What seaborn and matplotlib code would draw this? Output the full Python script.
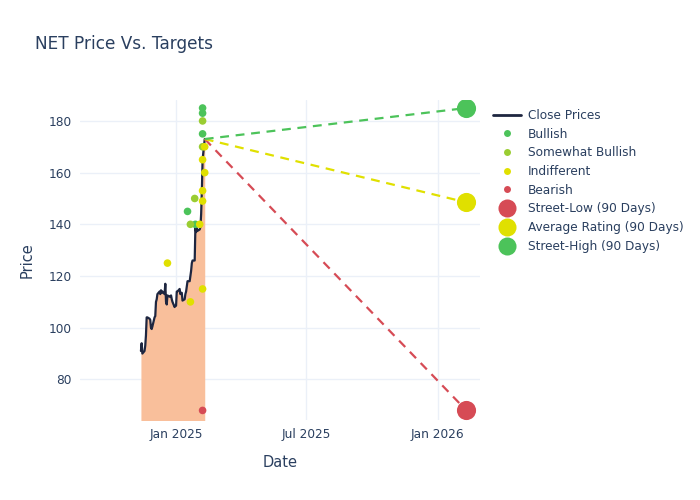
import pandas as pd
import numpy as np
import matplotlib
matplotlib.use('Agg')
import matplotlib.pyplot as plt
import matplotlib.dates as mdates
from matplotlib.lines import Line2D
import seaborn as sns

sns.set_style('white')
plt.rcParams['font.family'] = ['DejaVu Sans']

# close prices, business days 2024-11-13 .. 2025-02-10
close_dates = pd.bdate_range('2024-11-13', '2025-02-10')
close_prices = [91, 94, 90, 91, 93, 97, 104, 104, 103.5, 103, 100, 99.5, 100.5,
                104, 104.5, 110, 111, 113, 114, 113, 114.5, 113.5, 114, 113, 117,
                110, 109, 112.5, 112, 112, 112.5, 111, 110, 108, 108.5,
                108.5, 114, 114, 115, 113, 113.5, 113.5, 110.5, 111, 113, 114, 116,
                118, 118, 120, 122, 125, 126, 126, 139, 137, 138.5, 137.5,
                138, 139, 144, 153, 165, 173]

rating_dates = ['2025-02-07', '2025-02-07', '2025-02-07', '2025-01-17', '2025-01-28',
                '2025-02-07', '2025-02-07', '2025-01-27', '2025-01-21',
                '2024-12-20', '2025-01-21', '2025-02-03', '2025-02-10', '2025-02-07',
                '2025-02-10', '2025-02-07', '2025-02-07', '2025-02-07',
                '2025-02-07']
rating_prices = [185, 183, 175, 145, 140,
                 180, 170, 150, 140,
                 125, 110, 140, 170, 165, 160, 153, 149, 115,
                 68]
rating_labels = ['Bullish'] * 5 + ['Somewhat Bullish'] * 4 + ['Indifferent'] * 9 + ['Bearish']

target_date = '2026-02-10'
target_names = ['Street-Low (90 Days)', 'Average Rating (90 Days)', 'Street-High (90 Days)']
target_values = [68, 148.5, 185]

colors = {'Bullish': '#4cc35a', 'Somewhat Bullish': '#9acd32',
          'Indifferent': '#e0e000', 'Bearish': '#d64b55'}
target_colors = ['#d64b55', '#e0e000', '#4cc35a']
text_col = '#2a3f5f'
grid_col = '#ebf0f8'

close_df = pd.DataFrame({'Date': close_dates, 'Price': close_prices})
rating_df = pd.DataFrame({'Date': pd.to_datetime(rating_dates), 'Price': rating_prices,
                          'Rating': rating_labels})

fig = plt.figure(figsize=(7, 5), dpi=100)
ax = fig.add_axes([80 / 700, 80 / 500, 400 / 700, 320 / 500])

ax.fill_between(close_df['Date'], close_df['Price'], 0, color='#f9bf9b', lw=0, zorder=1)
sns.lineplot(data=close_df, x='Date', y='Price', color='#1e2640', lw=1.6, ax=ax, zorder=3)
sns.scatterplot(data=rating_df, x='Date', y='Price', hue='Rating', palette=colors,
                s=30, linewidth=0, legend=False, ax=ax, zorder=4)

last_date = close_df['Date'].iloc[-1]
last_price = close_df['Price'].iloc[-1]
tdate = pd.Timestamp(target_date)
for val, c in zip(target_values, target_colors):
    ax.plot([last_date, tdate], [last_price, val], ls=(0, (4, 3)), lw=1.6, color=c, zorder=5)
    ax.scatter([tdate], [val], s=190, color=c, linewidth=0, zorder=6)

ax.set_xlim(pd.Timestamp('2024-08-20'), pd.Timestamp('2026-03-01'))
ax.set_ylim(64.3, 188.1)
ax.set_yticks([80, 100, 120, 140, 160, 180])
ax.set_xticks(pd.to_datetime(['2025-01-01', '2025-07-01', '2026-01-01']))
ax.xaxis.set_major_formatter(mdates.DateFormatter('%b %Y'))
ax.grid(True, color=grid_col, lw=1)
ax.set_axisbelow(True)
for sp in ax.spines.values():
    sp.set_visible(False)
ax.tick_params(colors=text_col, labelsize=8.7, length=0, pad=6)
ax.set_xlabel('Date', fontsize=10.5, color=text_col, labelpad=10)
ax.set_ylabel('Price', fontsize=10.5, color=text_col, labelpad=10)

fig.text(35 / 700, 1 - 44 / 500, 'NET Price Vs. Targets', fontsize=12.2, color=text_col, va='center')

handles = [Line2D([], [], color='#1e2640', lw=2)]
for k in ['Bullish', 'Somewhat Bullish', 'Indifferent', 'Bearish']:
    handles.append(Line2D([], [], ls='', marker='o', ms=5, mew=0, color=colors[k]))
for c in target_colors:
    handles.append(Line2D([], [], ls='', marker='o', ms=13, mew=0, color=c))
labels = ['Close Prices', 'Bullish', 'Somewhat Bullish', 'Indifferent', 'Bearish'] + target_names
leg = fig.legend(handles, labels, loc='upper left', bbox_to_anchor=(493 / 700, 1 - 109 / 500),
                 frameon=False, fontsize=8.7, labelspacing=0.47, handlelength=2.3,
                 handletextpad=0.6, borderpad=0, borderaxespad=0)
for t in leg.get_texts():
    t.set_color(text_col)

fig.savefig('out.png', dpi=100)
